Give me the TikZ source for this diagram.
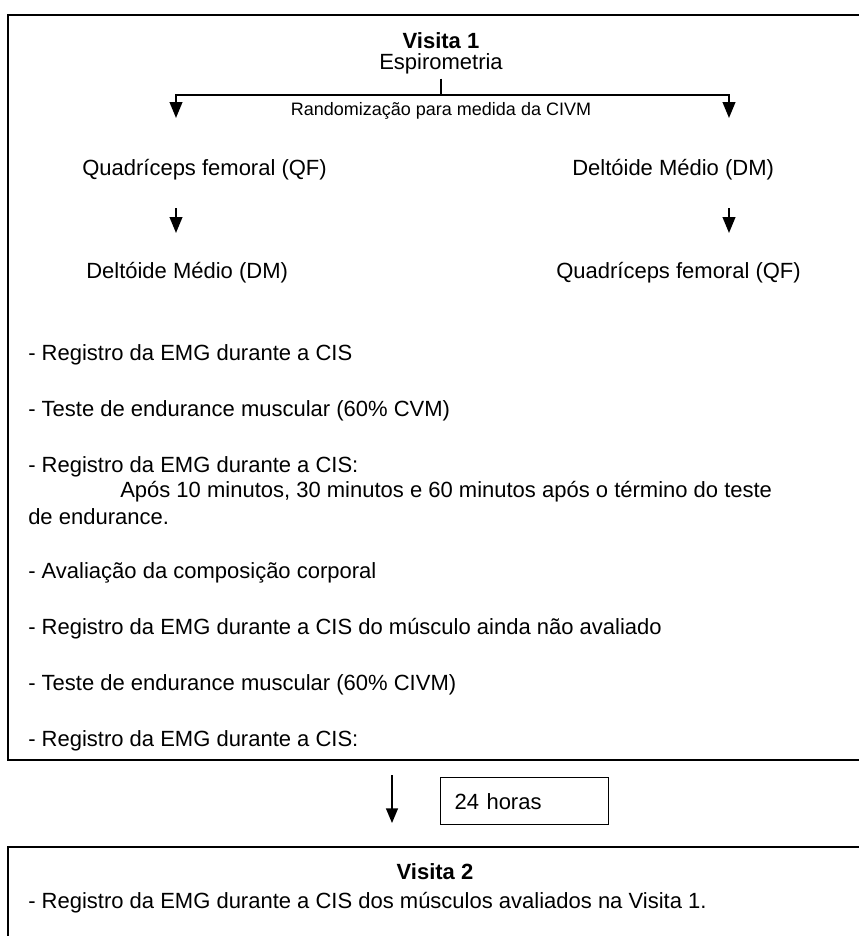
\documentclass[tikz,border=0pt]{standalone}
\usepackage{fontspec}
\setmainfont{Liberation Sans}
\usetikzlibrary{arrows.meta,positioning}

\begin{document}
\begin{tikzpicture}[x=0.75pt,y=-0.75pt,
  txt/.style={inner sep=0pt, font=\fontsize{16.5}{19}\selectfont},
  item/.style={txt, anchor=west},
  small/.style={inner sep=0pt, font=\fontsize{13.5}{16}\selectfont},
  frame/.style={draw=black, line width=1.5pt},
  ln/.style={line width=1.5pt},
  ar/.style={-{Triangle[length=12pt,width=9.5pt]}, line width=1.5pt},
  arthin/.style={-{Triangle[length=11pt,width=9pt]}, line width=1pt},
]
  \useasboundingbox (0,0) rectangle (859,936);
  \clip (0,0) rectangle (859,936);

  % visita 1
  \draw[frame] (900,760) -- (8,760) -- (8,15) -- (900,15);
  \node[txt, font=\fontsize{16.5}{19}\selectfont\bfseries] (v1) at (441,41) {Visita 1};
  \node[txt] (esp) at (441,64) {Espirometria};
  \coordinate (split) at (441,95);
  \coordinate (tipL) at (176,118);
  \coordinate (tipR) at (729,118);
  \draw[ln] ([yshift=-3pt]esp.south) -- (split);
  \draw[ar] (split) -| (tipL);
  \draw[ar] (split) -| (tipR);
  \node[small] (rand) at (441,111) {Randomização para medida da CIVM};

  % ordem dos musculos
  \node[item] (qfL) at (82,170) {Quadríceps femoral (QF)};
  \node[item] (dmL) at (86,273) {Deltóide Médio (DM)};
  \node[item] (dmR) at (572,170) {Deltóide Médio (DM)};
  \node[item] (qfR) at (556,273) {Quadríceps femoral (QF)};
  \coordinate (aL1) at (176,208);
  \coordinate (aL2) at (176,233);
  \coordinate (aR1) at (729,208);
  \coordinate (aR2) at (729,233);
  \draw[ar] (aL1) -- (aL2);
  \draw[ar] (aR1) -- (aR2);

  % protocolo
  \node[item] (p1) at (28,355) {- Registro da EMG durante a CIS};
  \node[item] (p2) at (28,411) {- Teste de endurance muscular (60\% CVM)};
  \node[item] (p3) at (28,467) {- Registro da EMG durante a CIS:};
  \node[item] (p3a) at (120,492) {Após 10 minutos, 30 minutos e 60 minutos após o término do teste};
  \node[item] (p3b) at (28,517) {de endurance.};
  \node[item] (p4) at (28,573) {- Avaliação da composição corporal};
  \node[item] (p5) at (28,629) {- Registro da EMG durante a CIS do músculo ainda não avaliado};
  \node[item] (p6) at (28,685) {- Teste de endurance muscular (60\% CIVM)};
  \node[item] (p7) at (28,741) {- Registro da EMG durante a CIS:};

  % intervalo
  \coordinate (down1) at (392,775);
  \coordinate (down2) at (392,823);
  \draw[arthin] (down1) -- (down2);
  \node[txt, draw, line width=1.1pt, anchor=north west, minimum width=168*0.75pt,
        minimum height=47*0.75pt, text width=140*0.75pt, inner xsep=14*0.75pt]
        (horas) at (440,777) {24 horas};

  % visita 2
  \draw[frame] (8,950) -- (8,847) -- (900,847);
  \node[txt, font=\fontsize{16.5}{19}\selectfont\bfseries] (v2) at (435,872) {Visita 2};
  \node[item] (q1) at (28,903) {- Registro da EMG durante a CIS dos músculos avaliados na Visita 1.};
\end{tikzpicture}
\end{document}
